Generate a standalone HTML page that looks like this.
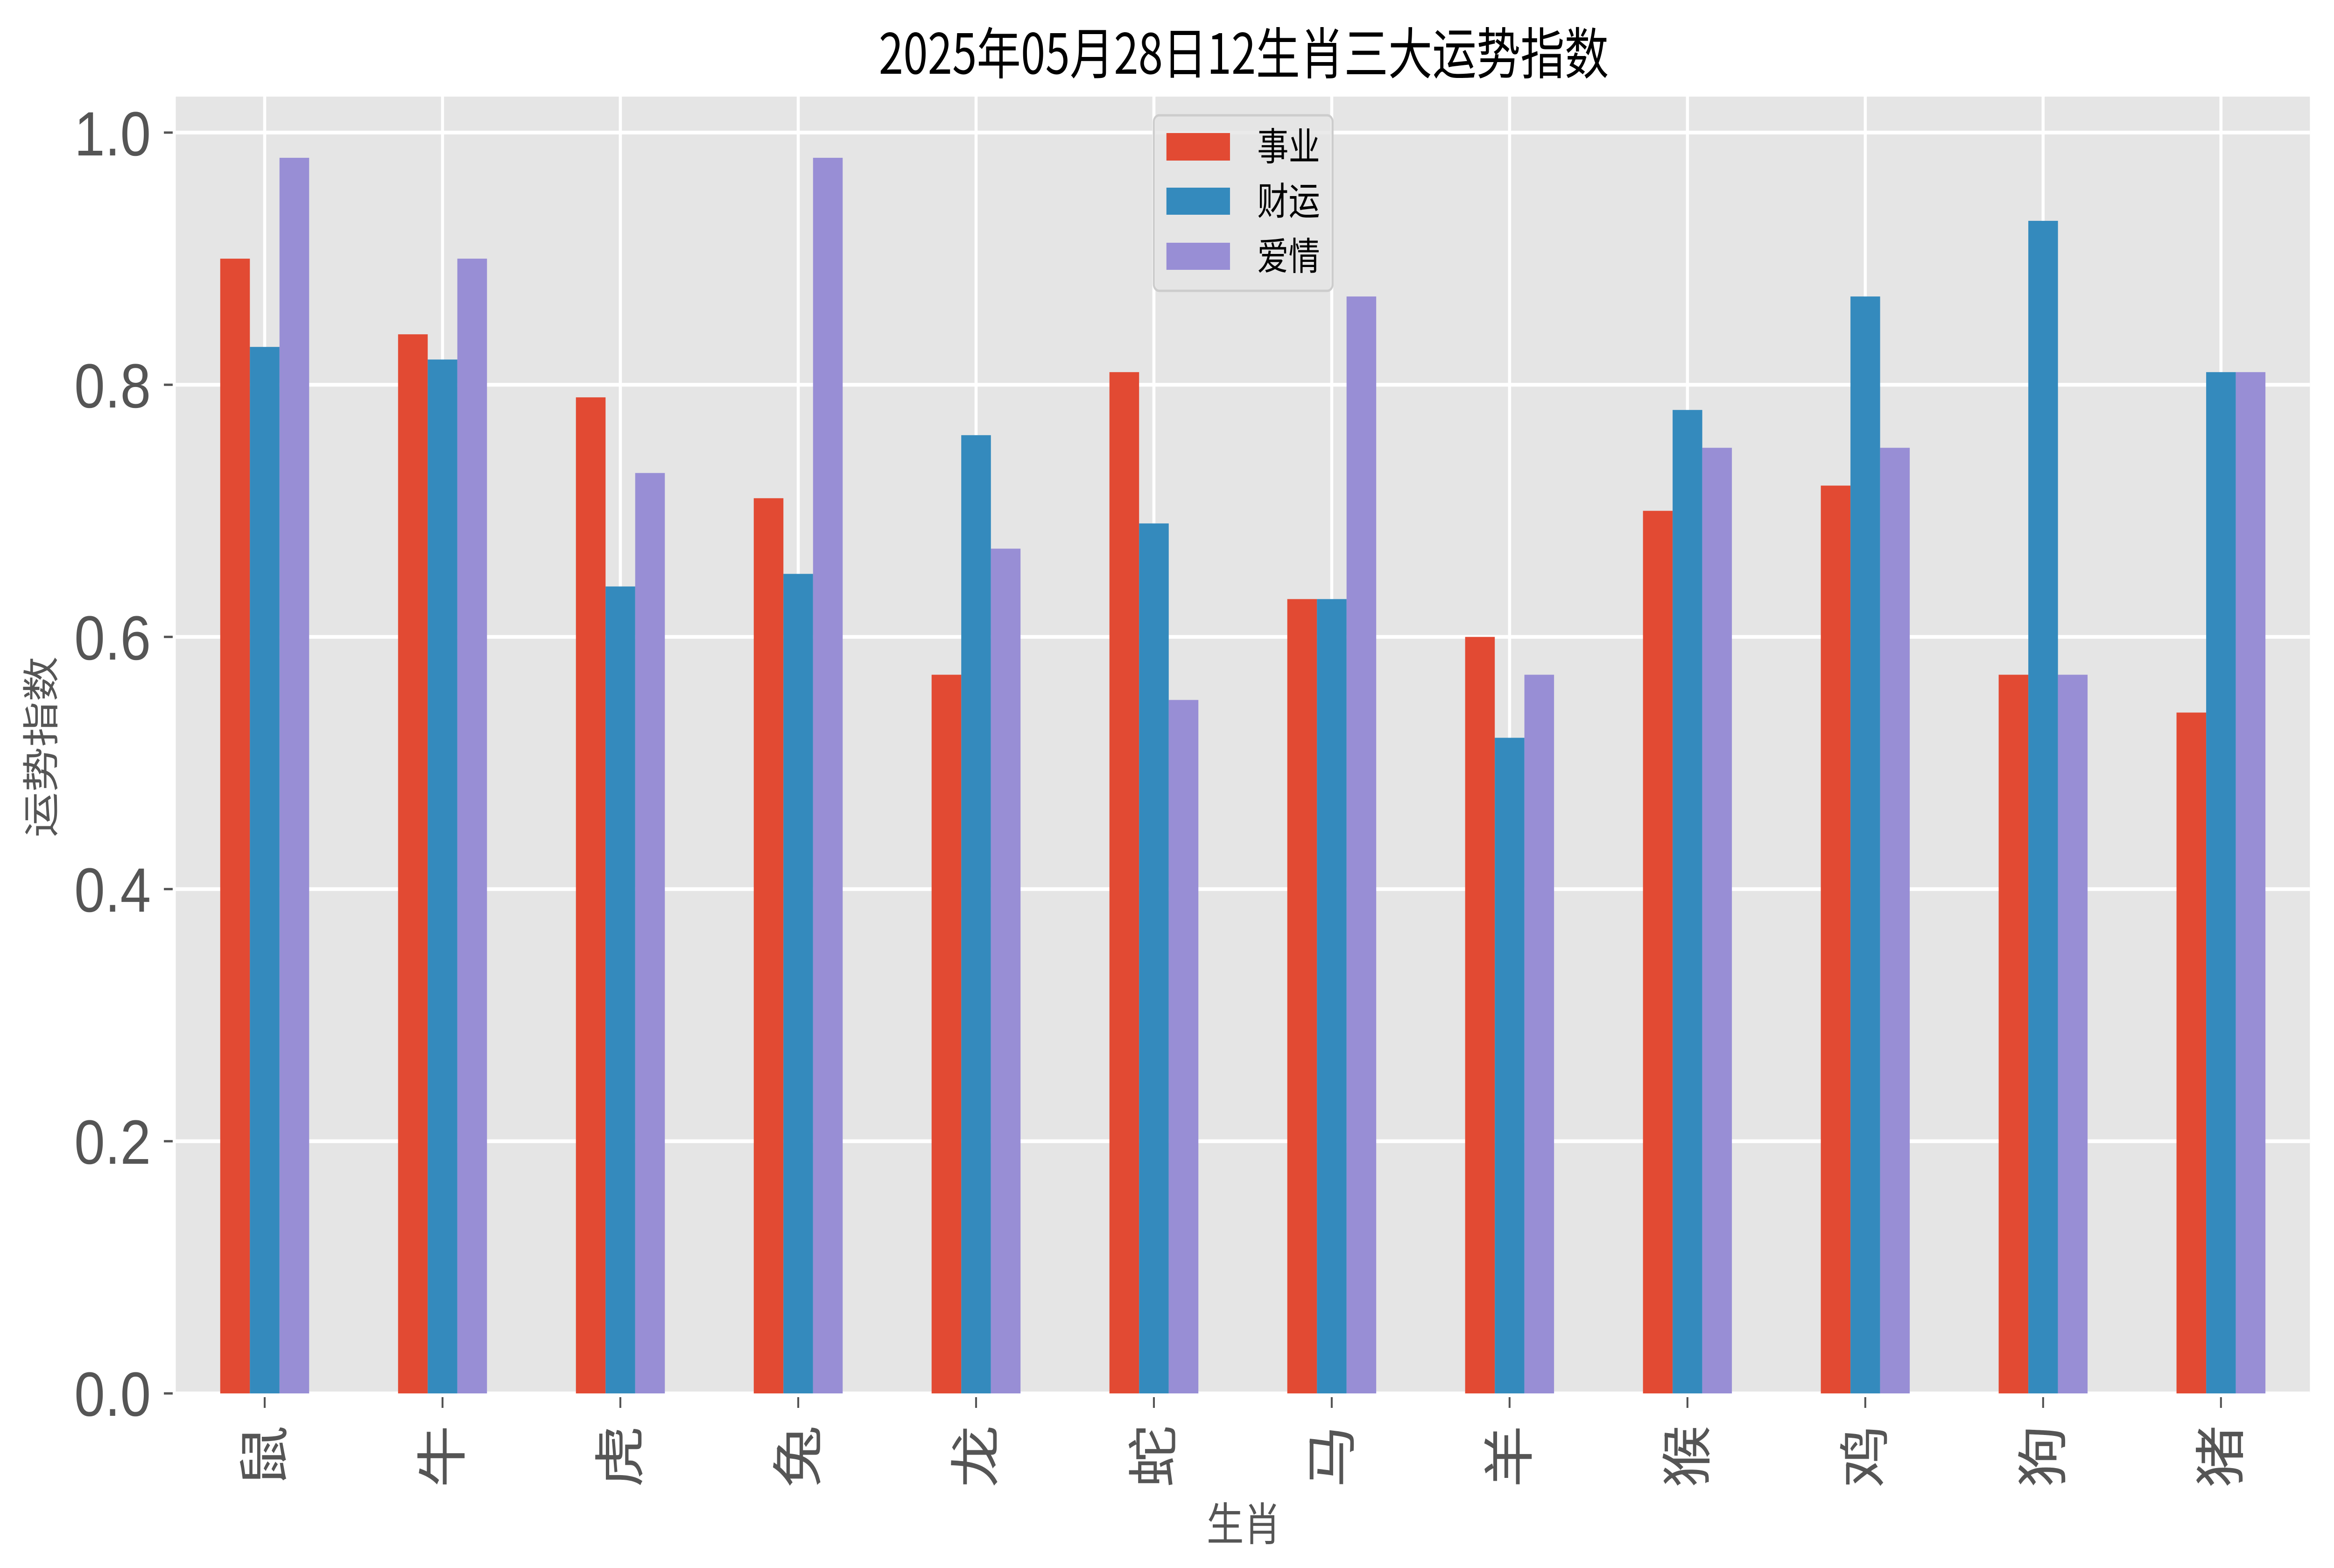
<!DOCTYPE html>
<html><head><meta charset="utf-8"><style>
html,body{margin:0;padding:0;background:#fff;overflow:hidden;width:100%;height:100%;}
svg{display:block;width:100vw;height:100vh;}
text{font-family:"Liberation Sans","Noto Sans CJK SC",sans-serif;}
.cjk{font-family:"Noto Sans CJK SC","WenQuanYi Zen Hei",sans-serif;}
</style></head><body>
<svg viewBox="0 0 6095 3359" preserveAspectRatio="none" xmlns="http://www.w3.org/2000/svg">
<rect x="0" y="0" width="6095" height="3359" fill="#ffffff"/>
<rect x="459" y="207" width="5573" height="2778" fill="#e5e5e5"/>
<g stroke="#ffffff" stroke-width="8">
<line x1="459" x2="6032" y1="2985" y2="2985"/>
<line x1="459" x2="6032" y1="2444.8" y2="2444.8"/>
<line x1="459" x2="6032" y1="1904.6" y2="1904.6"/>
<line x1="459" x2="6032" y1="1364.4" y2="1364.4"/>
<line x1="459" x2="6032" y1="824.2" y2="824.2"/>
<line x1="459" x2="6032" y1="284" y2="284"/>
<line y1="207" y2="2985" x1="691.2" x2="691.2"/>
<line y1="207" y2="2985" x1="1155.6" x2="1155.6"/>
<line y1="207" y2="2985" x1="1620.0" x2="1620.0"/>
<line y1="207" y2="2985" x1="2084.5" x2="2084.5"/>
<line y1="207" y2="2985" x1="2548.9" x2="2548.9"/>
<line y1="207" y2="2985" x1="3013.3" x2="3013.3"/>
<line y1="207" y2="2985" x1="3477.7" x2="3477.7"/>
<line y1="207" y2="2985" x1="3942.1" x2="3942.1"/>
<line y1="207" y2="2985" x1="4406.6" x2="4406.6"/>
<line y1="207" y2="2985" x1="4871.0" x2="4871.0"/>
<line y1="207" y2="2985" x1="5335.4" x2="5335.4"/>
<line y1="207" y2="2985" x1="5799.8" x2="5799.8"/>
</g>
<g transform="translate(691.2,2985) scale(464.42,-2701)">
<g fill="#E24A33">
<rect x="-0.25" y="0" width="0.1667" height="0.90"/>
<rect x="0.75" y="0" width="0.1667" height="0.84"/>
<rect x="1.75" y="0" width="0.1667" height="0.79"/>
<rect x="2.75" y="0" width="0.1667" height="0.71"/>
<rect x="3.75" y="0" width="0.1667" height="0.57"/>
<rect x="4.75" y="0" width="0.1667" height="0.81"/>
<rect x="5.75" y="0" width="0.1667" height="0.63"/>
<rect x="6.75" y="0" width="0.1667" height="0.60"/>
<rect x="7.75" y="0" width="0.1667" height="0.70"/>
<rect x="8.75" y="0" width="0.1667" height="0.72"/>
<rect x="9.75" y="0" width="0.1667" height="0.57"/>
<rect x="10.75" y="0" width="0.1667" height="0.54"/>
</g>
<g fill="#348ABD">
<rect x="-0.0833" y="0" width="0.1667" height="0.83"/>
<rect x="0.9167" y="0" width="0.1667" height="0.82"/>
<rect x="1.9167" y="0" width="0.1667" height="0.64"/>
<rect x="2.9167" y="0" width="0.1667" height="0.65"/>
<rect x="3.9167" y="0" width="0.1667" height="0.76"/>
<rect x="4.9167" y="0" width="0.1667" height="0.69"/>
<rect x="5.9167" y="0" width="0.1667" height="0.63"/>
<rect x="6.9167" y="0" width="0.1667" height="0.52"/>
<rect x="7.9167" y="0" width="0.1667" height="0.78"/>
<rect x="8.9167" y="0" width="0.1667" height="0.87"/>
<rect x="9.9167" y="0" width="0.1667" height="0.93"/>
<rect x="10.9167" y="0" width="0.1667" height="0.81"/>
</g>
<g fill="#988ED5">
<rect x="0.0833" y="0" width="0.1667" height="0.98"/>
<rect x="1.0833" y="0" width="0.1667" height="0.90"/>
<rect x="2.0833" y="0" width="0.1667" height="0.73"/>
<rect x="3.0833" y="0" width="0.1667" height="0.98"/>
<rect x="4.0833" y="0" width="0.1667" height="0.67"/>
<rect x="5.0833" y="0" width="0.1667" height="0.55"/>
<rect x="6.0833" y="0" width="0.1667" height="0.87"/>
<rect x="7.0833" y="0" width="0.1667" height="0.57"/>
<rect x="8.0833" y="0" width="0.1667" height="0.75"/>
<rect x="9.0833" y="0" width="0.1667" height="0.75"/>
<rect x="10.0833" y="0" width="0.1667" height="0.57"/>
<rect x="11.0833" y="0" width="0.1667" height="0.81"/>
</g>
</g>
<g stroke="#555555" stroke-width="5">
<line x1="428" x2="451" y1="2985" y2="2985"/>
<line x1="428" x2="451" y1="2444.8" y2="2444.8"/>
<line x1="428" x2="451" y1="1904.6" y2="1904.6"/>
<line x1="428" x2="451" y1="1364.4" y2="1364.4"/>
<line x1="428" x2="451" y1="824.2" y2="824.2"/>
<line x1="428" x2="451" y1="284" y2="284"/>
</g>
<g fill="#555555" font-size="134" text-anchor="end">
<text x="394" y="3033" textLength="200" lengthAdjust="spacingAndGlyphs">0.0</text>
<text x="394" y="2493" textLength="200" lengthAdjust="spacingAndGlyphs">0.2</text>
<text x="394" y="1953" textLength="200" lengthAdjust="spacingAndGlyphs">0.4</text>
<text x="394" y="1413" textLength="200" lengthAdjust="spacingAndGlyphs">0.6</text>
<text x="394" y="873" textLength="200" lengthAdjust="spacingAndGlyphs">0.8</text>
<text x="394" y="333" textLength="200" lengthAdjust="spacingAndGlyphs">1.0</text>
</g>
<g stroke="#555555" stroke-width="5">
<line y1="2993" y2="3016" x1="691.2" x2="691.2"/>
<line y1="2993" y2="3016" x1="1155.6" x2="1155.6"/>
<line y1="2993" y2="3016" x1="1620.0" x2="1620.0"/>
<line y1="2993" y2="3016" x1="2084.5" x2="2084.5"/>
<line y1="2993" y2="3016" x1="2548.9" x2="2548.9"/>
<line y1="2993" y2="3016" x1="3013.3" x2="3013.3"/>
<line y1="2993" y2="3016" x1="3477.7" x2="3477.7"/>
<line y1="2993" y2="3016" x1="3942.1" x2="3942.1"/>
<line y1="2993" y2="3016" x1="4406.6" x2="4406.6"/>
<line y1="2993" y2="3016" x1="4871.0" x2="4871.0"/>
<line y1="2993" y2="3016" x1="5335.4" x2="5335.4"/>
<line y1="2993" y2="3016" x1="5799.8" x2="5799.8"/>
</g>
<g fill="#555555" font-size="134" class="cjk" text-anchor="middle">
<text transform="translate(691.2,3120) rotate(-90)" y="47">鼠</text>
<text transform="translate(1155.6,3120) rotate(-90)" y="47">牛</text>
<text transform="translate(1620.0,3120) rotate(-90)" y="47">虎</text>
<text transform="translate(2084.5,3120) rotate(-90)" y="47">兔</text>
<text transform="translate(2548.9,3120) rotate(-90)" y="47">龙</text>
<text transform="translate(3013.3,3120) rotate(-90)" y="47">蛇</text>
<text transform="translate(3477.7,3120) rotate(-90)" y="47">马</text>
<text transform="translate(3942.1,3120) rotate(-90)" y="47">羊</text>
<text transform="translate(4406.6,3120) rotate(-90)" y="47">猴</text>
<text transform="translate(4871.0,3120) rotate(-90)" y="47">鸡</text>
<text transform="translate(5335.4,3120) rotate(-90)" y="47">狗</text>
<text transform="translate(5799.8,3120) rotate(-90)" y="47">猪</text>
</g>
<text class="cjk" fill="#555555" font-size="97" text-anchor="middle" x="3248" y="3300">生肖</text>
<text class="cjk" fill="#555555" font-size="97" text-anchor="middle" transform="translate(108,1600) rotate(-90)" y="34">运势指数</text>
<text fill="#000000" font-size="119" text-anchor="middle" x="3248" y="158" textLength="1906" lengthAdjust="spacingAndGlyphs" style="font-family:'Noto Sans CJK SC','WenQuanYi Zen Hei',sans-serif">2025年05月28日12生肖三大运势指数</text>
<rect x="3013" y="247" width="467" height="376" rx="14" ry="14" fill="#e5e5e5" fill-opacity="0.8" stroke="#cccccc" stroke-width="5"/>
<rect x="3046" y="285" width="166" height="59" fill="#E24A33"/>
<rect x="3046" y="402" width="166" height="58" fill="#348ABD"/>
<rect x="3046" y="520" width="166" height="58" fill="#988ED5"/>
<g class="cjk" fill="#000000" font-size="82">
<text x="3283" y="343">事业</text>
<text x="3283" y="460">财运</text>
<text x="3283" y="578">爱情</text>
</g>
</svg>
</body></html>
